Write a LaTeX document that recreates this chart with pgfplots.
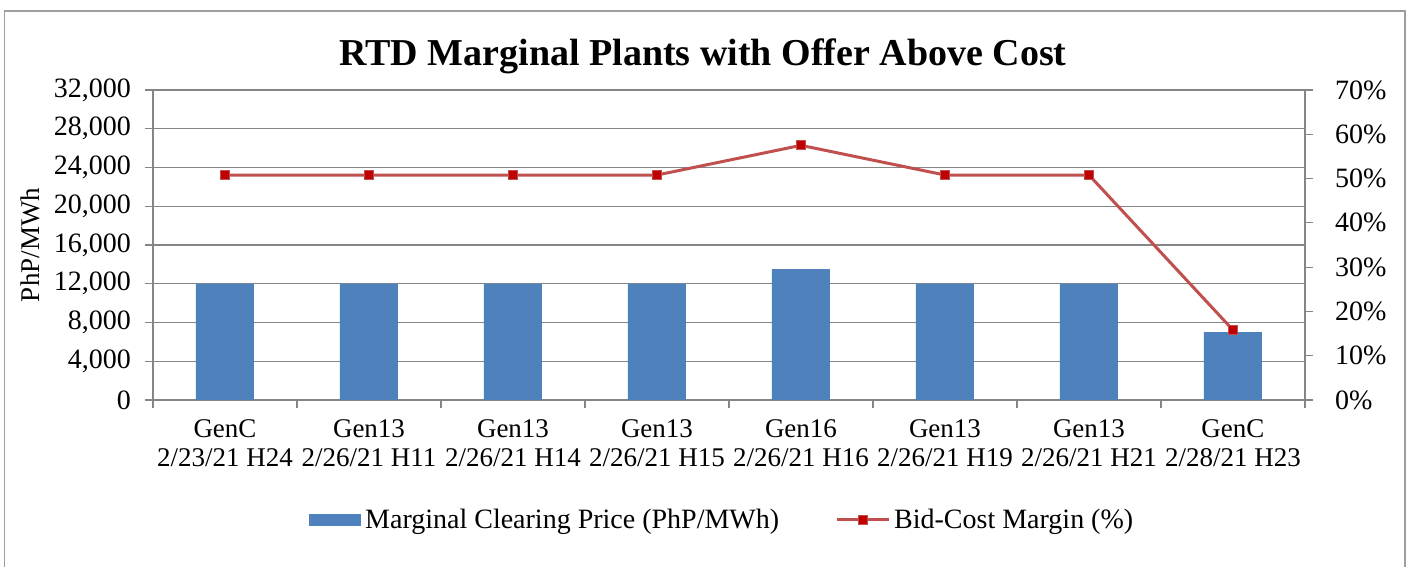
\documentclass[border=0pt]{standalone}
\usepackage{fontspec}
\setmainfont{Liberation Serif}
\usepackage{pgfplots}
\pgfplotsset{compat=1.18}
\definecolor{barblue}{HTML}{4F81BD}
\definecolor{linered}{HTML}{C0504D}
\definecolor{markred}{HTML}{C00000}
\definecolor{axgray}{HTML}{868686}
\begin{document}
\begin{tikzpicture}[x=1pt,y=1pt]
\useasboundingbox (0,0) rectangle (704,283.5);
\draw[axgray!80, line width=0.8pt] (2.25,-20) rectangle (702.5,278);
\node[font=\fontsize{19}{22}\selectfont\bfseries] at (351.5,255.5) {RTD Marginal Plants with Offer Above Cost};
\begin{axis}[
  at={(76.5pt,83.5pt)}, anchor=south west,
  scale only axis, width=576pt, height=155pt,
  xmin=-0.5, xmax=7.5, ymin=0, ymax=32000,
  scaled y ticks=false,
  axis x line*=bottom, axis y line*=left,
  axis line style={axgray, line width=0.6pt, -},
  xtick={0,...,7},
  xticklabels={{GenC\\2/23/21 H24},{Gen13\\2/26/21 H11},{Gen13\\2/26/21 H14},{Gen13\\2/26/21 H15},{Gen16\\2/26/21 H16},{Gen13\\2/26/21 H19},{Gen13\\2/26/21 H21},{GenC\\2/28/21 H23}},
  xticklabel style={align=center, font=\fontsize{13.5}{14.5}\selectfont, yshift=-2.5pt},
  minor xtick={-0.5,0.5,...,7.5},
  tick align=outside, major tick length=4pt, minor tick length=4pt,
  major x tick style={draw=none},
  minor x tick style={axgray, line width=0.6pt},
  ytick={0,4000,...,32000},
  yticklabels={0,{4,000},{8,000},{12,000},{16,000},{20,000},{24,000},{28,000},{32,000}},
  y tick style={axgray, line width=0.6pt},
  ymajorgrids, grid style={axgray, line width=0.6pt},
  yticklabel style={font=\fontsize{14}{16}\selectfont, xshift=-3.5pt},
  ylabel={PhP/MWh},
  ylabel style={font=\fontsize{13.5}{15}\selectfont, at={(axis description cs:-0.1068,0.5)}, anchor=center},
  legend columns=2,
  legend style={at={(0.495,-0.387)}, anchor=center, draw=none, font=\fontsize{14}{16}\selectfont,
    /tikz/every even column/.append style={column sep=26pt}},
]
\addplot[ybar, bar width=29pt, fill=barblue, draw=none,
  legend image code/.code={\fill[barblue] (0pt,-3pt) rectangle (26pt,3pt);}]
  coordinates {(0,12000) (1,12000) (2,12000) (3,12000) (4,13500) (5,12000) (6,12000) (7,7000)};
\addlegendentry{Marginal Clearing Price (PhP/MWh)}
\addlegendimage{linered, line width=1.5pt,
  legend image code/.code={\draw[linered, line width=1.5pt] (0pt,0pt) -- (26pt,0pt); \draw[fill=markred, draw=linered, line width=0.5pt] (10.75pt,-2.25pt) rectangle (15.25pt,2.25pt);}}
\addlegendentry{Bid-Cost Margin (\%)}
\end{axis}
\begin{axis}[
  at={(76.5pt,83.5pt)}, anchor=south west,
  scale only axis, width=576pt, height=155pt,
  xmin=-0.5, xmax=7.5, ymin=0, ymax=70,
  axis y line*=right, axis x line=none,
  axis line style={axgray, line width=0.6pt, -},
  tick align=outside, major tick length=4pt,
  ytick={0,10,...,70},
  yticklabels={0\%,10\%,20\%,30\%,40\%,50\%,60\%,70\%},
  y tick style={axgray, line width=0.6pt},
  yticklabel style={font=\fontsize{14}{16}\selectfont, xshift=7.5pt},
]
\addplot[linered, line width=1.5pt, mark=square*, mark size=2.25pt, mark options={fill=markred, draw=linered, line width=0.5pt}]
  coordinates {(0,50.8) (1,50.8) (2,50.8) (3,50.8) (4,57.5) (5,50.8) (6,50.8) (7,15.8)};
\end{axis}
\end{tikzpicture}
\end{document}
